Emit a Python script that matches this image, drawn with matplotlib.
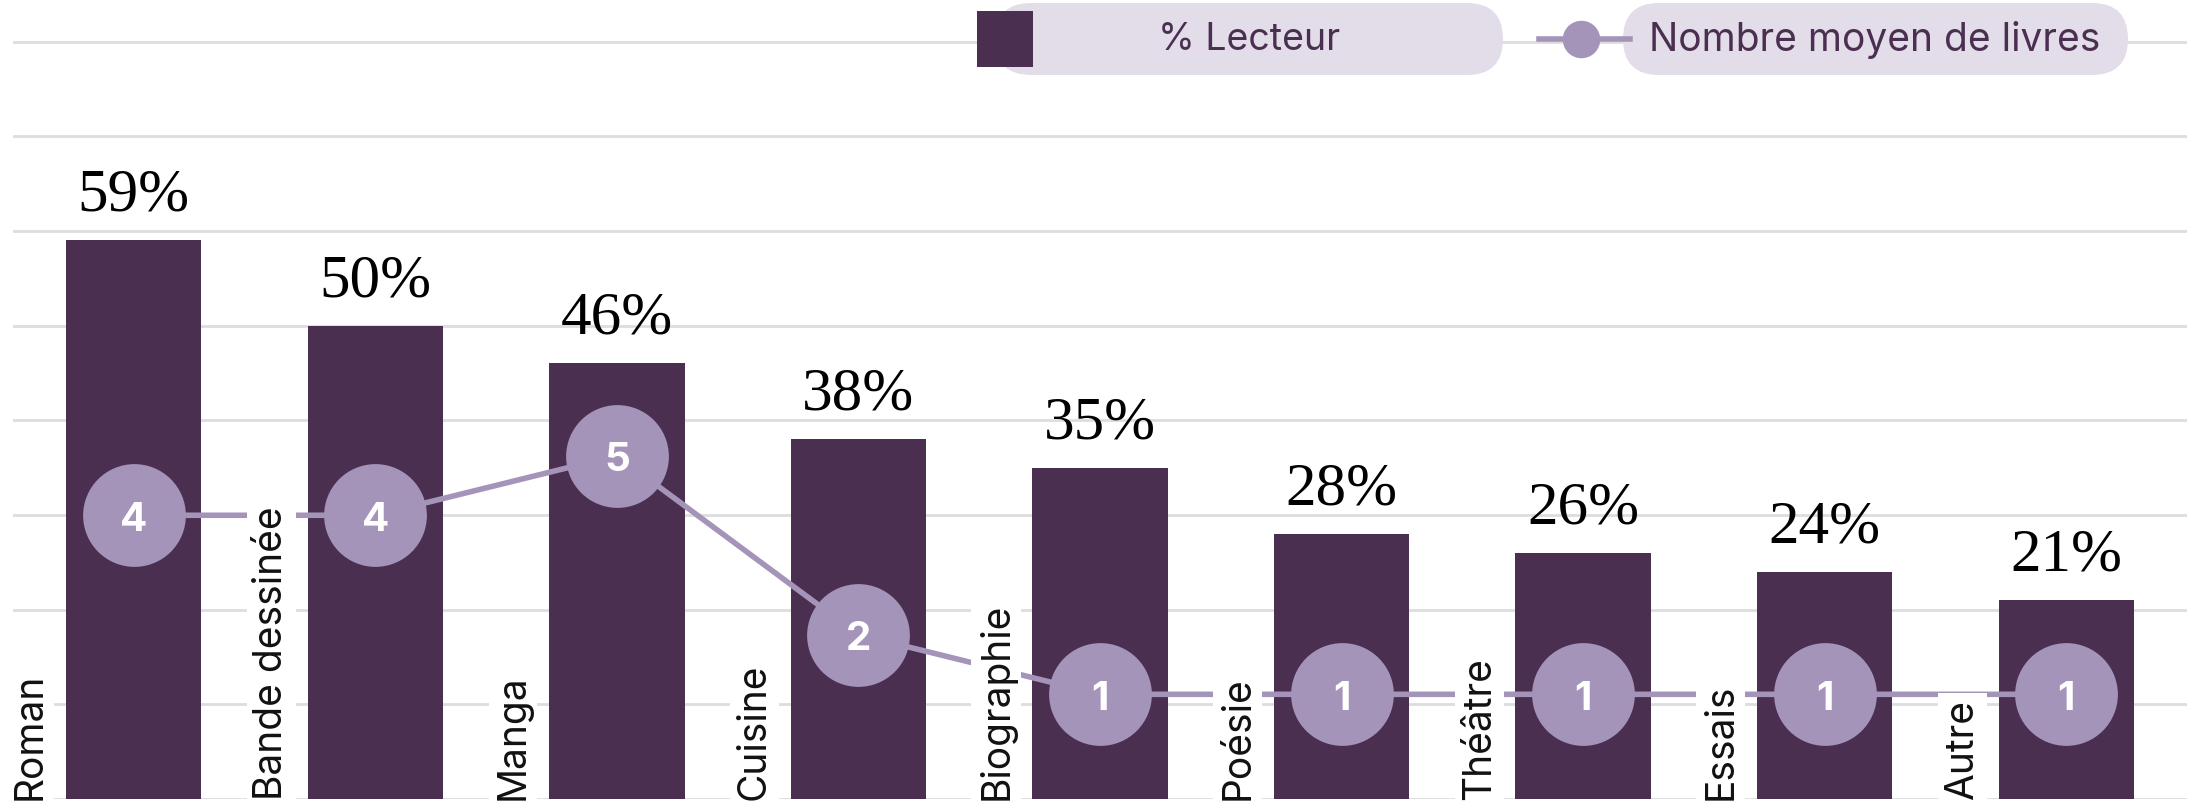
import matplotlib.pyplot as plt
import matplotlib.transforms as mtransforms
from matplotlib.patches import FancyBboxPatch, Rectangle
import numpy as np

# data
categories = ["Roman", "Bande dessinée", "Manga", "Cuisine", "Biographie",
              "Poésie", "Théâtre", "Essais", "Autre"]
pct_lecteur = [59, 50, 46, 38, 35, 28, 26, 24, 21]
nb_livres = [4, 4, 5, 2, 1, 1, 1, 1, 1]
legend_labels = ["% Lecteur", "Nombre moyen de livres"]

BAR = "#4b2f51"
DOT = "#a594ba"
PILL = "#e3dde9"
GRID = "#dddddd"
SANS = ["Inter", "DejaVu Sans"]
SERIF = ["Liberation Serif", "DejaVu Serif"]

W, H = 2198, 803
fig = plt.figure(figsize=(W / 100, H / 100), dpi=100)
ax = fig.add_axes([13 / W, 3 / H, (2187 - 13) / W, 800 / H])

x = np.arange(len(categories))
ax.bar(x, pct_lecteur, width=0.56, color=BAR, zorder=2)
ax.set_xlim(-0.5, len(categories) - 0.5)
ax.set_ylim(0, 84.5)
ax.set_yticks(np.arange(0, 81, 10))
ax.grid(axis="y", color=GRID, lw=2, zorder=0)
ax.set_xticks([])
ax.tick_params(axis="both", length=0, labelleft=False, labelbottom=False)
for s in ax.spines.values():
    s.set_visible(False)

# percent labels above bars
for xi, v in zip(x, pct_lecteur):
    ax.annotate(f"{v}%", (xi, v), xytext=(0, 22), textcoords="offset points",
                ha="center", va="baseline", fontsize=44, family=SERIF, color="black")

# line on a second scale
ax2 = ax.twinx()
ax2.set_ylim(-0.754, 12.65)
ax2.axis("off")
ax2.plot(x, nb_livres, color=DOT, lw=4, marker="o", markersize=74,
         markerfacecolor=DOT, markeredgewidth=0, zorder=3)
for xi, n in zip(x, nb_livres):
    ax2.text(xi, n, str(n), ha="center", va="center_baseline", color="white",
             fontsize=29, fontweight="bold", family=SANS, zorder=4)

# rotated category labels with white background, breaking grid and line
trans = mtransforms.blended_transform_factory(ax2.transData, ax2.transAxes)
for xi, cat in zip(x, categories):
    ax2.text(xi - 0.43, 0, cat, transform=trans, rotation=90, ha="center",
             va="bottom", fontsize=28, family=SANS, color="#111111", zorder=5,
             bbox=dict(boxstyle="square,pad=0.15", fc="white", ec="none"))

# legend drawn by hand (pills)
axl = fig.add_axes([0, 0, 1, 1], zorder=10)
axl.set_xlim(0, W)
axl.set_ylim(H, 0)
axl.axis("off")
axl.add_patch(FancyBboxPatch((995, 4), 508, 72, boxstyle="round,pad=0,rounding_size=36",
                             fc=PILL, ec="none"))
axl.add_patch(Rectangle((977, 12), 56, 56, fc=BAR, ec="none"))
axl.text(1249, 40, legend_labels[0], ha="center", va="center", fontsize=27,
         family=SANS, color=BAR)
axl.plot([1539, 1630], [40, 40], color=DOT, lw=4)
axl.plot([1581], [40], marker="o", markersize=27, color=DOT, markeredgewidth=0)
axl.add_patch(FancyBboxPatch((1623, 4), 505, 72, boxstyle="round,pad=0,rounding_size=36",
                             fc=PILL, ec="none"))
axl.text(1875, 40, legend_labels[1], ha="center", va="center", fontsize=28,
         family=SANS, color=BAR)

fig.savefig("out.png", dpi=100)
